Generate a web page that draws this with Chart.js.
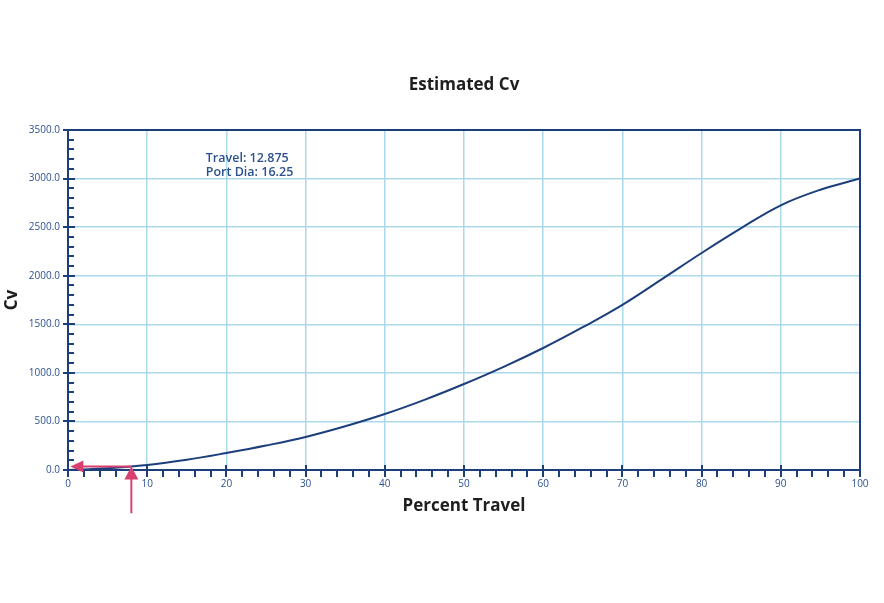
<!DOCTYPE html>
<html>
<head>
<meta charset="utf-8">
<title>Estimated Cv</title>
<script src="https://cdn.jsdelivr.net/npm/chart.js@4.4.1/dist/chart.umd.min.js"></script>
<style>
  html, body { margin: 0; padding: 0; background: #ffffff; }
  #wrap { width: 884px; height: 603px; }
</style>
</head>
<body>
<div id="wrap"><canvas id="cv-chart" width="884" height="603"></canvas></div>
<script>
// Chart data
const travelPct = [0, 5, 10, 15, 20, 25, 30, 35, 40, 45, 50, 55, 60, 65, 70, 75, 80, 85, 90, 95, 100];
const cvValues = [0, 18, 51, 105, 175, 252, 340, 450, 576, 722, 885, 1062, 1256, 1470, 1700, 1965, 2234, 2490, 2725, 2885, 3000];
const chartTitle = 'Estimated Cv';
const noteLines = ["Travel: 12.875", "Port Dia: 16.25"];
const markerTravel = 8;
const markerCv = 35;

const NAVY = '#1c3f7c';
const LABEL = '#2b5190';
const GRID = '#a9d9ea';
const PINK = '#d8406f';

// title over the plot, minor ticks, full frame, note text and the two pink arrows
const decorPlugin = {
    id: 'decor',
    afterDraw(chart) {
        const { ctx, chartArea: a } = chart;
        const xs = chart.scales.x;
        const ys = chart.scales.y;
        ctx.save();

        // title centred on the plot area
        ctx.fillStyle = '#1e1e1e';
        ctx.font = "bold 17px 'Open Sans'";
        ctx.textAlign = 'center';
        ctx.textBaseline = 'middle';
        ctx.fillText(chartTitle, (a.left + a.right) / 2, 85);

        // frame
        ctx.strokeStyle = NAVY;
        ctx.lineWidth = 2;
        ctx.strokeRect(a.left, a.top, a.right - a.left, a.bottom - a.top);

        // y ticks: minor inside, major crossing
        for (let v = 0; v <= 3500; v += 100) {
            const py = Math.round(ys.getPixelForValue(v));
            ctx.beginPath();
            if (v % 500 === 0) {
                ctx.moveTo(a.left - 5, py);
                ctx.lineTo(a.left + 7, py);
            } else {
                ctx.moveTo(a.left, py);
                ctx.lineTo(a.left + 6, py);
            }
            ctx.stroke();
        }
        // x ticks: minor below the axis, major crossing
        for (let v = 0; v <= 100; v += 2) {
            const px = Math.round(xs.getPixelForValue(v));
            ctx.beginPath();
            if (v % 10 === 0) {
                ctx.moveTo(px, a.bottom - 5);
                ctx.lineTo(px, a.bottom + 7);
            } else {
                ctx.moveTo(px, a.bottom);
                ctx.lineTo(px, a.bottom + 7);
            }
            ctx.stroke();
        }

        // note text
        ctx.fillStyle = LABEL;
        ctx.font = "600 12.5px 'Open Sans'";
        ctx.textAlign = 'left';
        ctx.fillText(noteLines[0], xs.getPixelForValue(17.4), ys.getPixelForValue(3212));
        ctx.fillText(noteLines[1], xs.getPixelForValue(17.4), ys.getPixelForValue(3068));

        // pink arrows
        const mx = xs.getPixelForValue(markerTravel);
        const my = ys.getPixelForValue(markerCv);
        ctx.strokeStyle = PINK;
        ctx.fillStyle = PINK;
        ctx.lineWidth = 2;

        const tipX = xs.getPixelForValue(0.3);
        ctx.beginPath();
        ctx.moveTo(mx, my);
        ctx.lineTo(tipX + 10, my);
        ctx.stroke();
        ctx.beginPath();
        ctx.moveTo(tipX, my);
        ctx.lineTo(tipX + 13, my - 6);
        ctx.lineTo(tipX + 13, my + 6);
        ctx.closePath();
        ctx.fill();

        const baseY = ys.getPixelForValue(-445);
        ctx.beginPath();
        ctx.moveTo(mx, baseY);
        ctx.lineTo(mx, my + 10);
        ctx.stroke();
        ctx.beginPath();
        ctx.moveTo(mx, my);
        ctx.lineTo(mx - 7, my + 13);
        ctx.lineTo(mx + 7, my + 13);
        ctx.closePath();
        ctx.fill();

        ctx.restore();
    }
};

const ctx = document.getElementById('cv-chart').getContext('2d');
new Chart(ctx, {
    type: 'line',
    data: {
        datasets: [{
            data: travelPct.map((t, i) => ({ x: t, y: cvValues[i] })),
            borderColor: NAVY,
            borderWidth: 2,
            pointRadius: 0,
            fill: false,
            tension: 0.4
        }]
    },
    options: {
        responsive: false,
        animation: false,
        layout: { padding: { left: 0, right: 24, top: 130, bottom: 0 } },
        plugins: {
            legend: { display: false },
            tooltip: { enabled: false },
            title: { display: false }
        },
        scales: {
            x: {
                type: 'linear',
                min: 0,
                max: 100,
                afterFit(scale) { scale.height = 133; },
                ticks: {
                    stepSize: 10,
                    padding: 8,
                    color: LABEL,
                    font: { family: 'Open Sans', size: 10 },
                    maxRotation: 0
                },
                grid: { color: GRID, lineWidth: 1.5, drawTicks: false },
                border: { color: NAVY, width: 2 },
                title: {
                    display: true,
                    text: 'Percent Travel',
                    color: '#1e1e1e',
                    font: { family: 'Open Sans', size: 17, weight: 'bold' },
                    padding: { top: 0, bottom: 87 }
                }
            },
            y: {
                min: 0,
                max: 3500,
                afterFit(scale) { scale.width = 68; },
                ticks: {
                    stepSize: 500,
                    padding: 8,
                    color: LABEL,
                    font: { family: 'Open Sans', size: 10 },
                    callback: v => v.toFixed(1)
                },
                grid: { color: GRID, lineWidth: 1.5, drawTicks: false },
                border: { color: NAVY, width: 2 },
                title: {
                    display: true,
                    text: 'Cv',
                    color: '#1e1e1e',
                    font: { family: 'Open Sans', size: 17, weight: 'bold' },
                    padding: { top: 2, bottom: 0 }
                }
            }
        }
    },
    plugins: [decorPlugin]
});
</script>
</body>
</html>
